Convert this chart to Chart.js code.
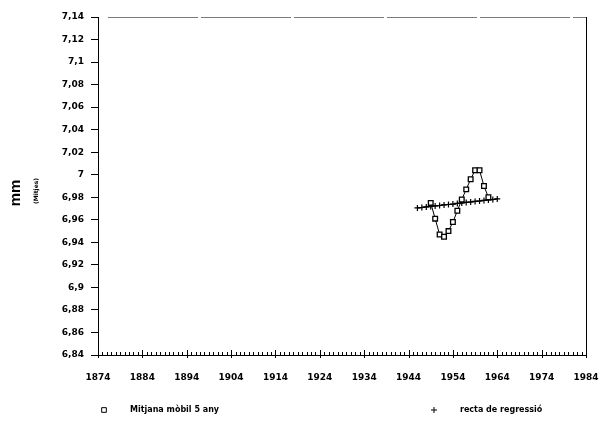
<!DOCTYPE html>
<html>
<head>
<meta charset="utf-8">
<script src="https://cdn.jsdelivr.net/npm/chart.js@4"></script>
<style>
  html, body { margin: 0; padding: 0; background: #fff; }
</style>
</head>
<body>
<canvas id="grafic" width="606" height="422"></canvas>
<script>
// dades llegides del grafic
const anysMitjana = [1949, 1950, 1951, 1952, 1953, 1954, 1955, 1956, 1957, 1958, 1959, 1960, 1961, 1962];
const mitjanaMobil = [6.975, 6.961, 6.947, 6.945, 6.950, 6.958, 6.968, 6.978, 6.987, 6.996, 7.004, 7.004, 6.990, 6.980];

const anysRecta = [1946, 1947, 1948, 1949, 1950, 1951, 1952, 1953, 1954, 1955, 1956, 1957, 1958, 1959, 1960, 1961, 1962, 1963, 1964];
const rectaRegressio = [6.9705, 6.9709, 6.9714, 6.9718, 6.9723, 6.9727, 6.9732, 6.9736, 6.9740, 6.9745, 6.9749, 6.9754, 6.9758, 6.9763, 6.9767, 6.9772, 6.9776, 6.9780, 6.9785];

const etiquetes = ['Mitjana mòbil 5 any', 'recta de regressió'];

// eixos
const xMin = 1874, xMax = 1984, xPas = 10;
const yMin = 6.84, yMax = 7.14, yPas = 0.02;

const lletra = '"DejaVu Sans", sans-serif';

const punts = (xs, ys) => xs.map((a, i) => ({ x: a, y: ys[i] }));

// vores, marques d'any, titol de l'eix i llegenda
const extres = {
  id: 'extres',
  afterDraw(chart) {
    const { ctx, chartArea: a, scales: { x } } = chart;
    ctx.save();
    ctx.lineWidth = 1;

    // vora de dalt (gris, discontinua)
    ctx.strokeStyle = '#7a7a7a';
    ctx.setLineDash([90, 3]);
    ctx.beginPath();
    ctx.moveTo(a.left + 10, a.top + 0.5);
    ctx.lineTo(a.right, a.top + 0.5);
    ctx.stroke();
    ctx.setLineDash([]);

    // vora dreta
    ctx.strokeStyle = '#000';
    ctx.beginPath();
    ctx.moveTo(Math.round(a.right) + 0.5, a.top);
    ctx.lineTo(Math.round(a.right) + 0.5, a.bottom);
    ctx.stroke();

    // marques de cada any
    ctx.beginPath();
    for (let any = xMin; any <= xMax; any++) {
      const px = Math.round(x.getPixelForValue(any)) + 0.5;
      const gran = (any - xMin) % xPas === 0;
      ctx.moveTo(px, a.bottom + (gran ? 3 : 0));
      ctx.lineTo(px, a.bottom - (gran ? 5 : 3));
    }
    ctx.stroke();

    // titol eix Y
    ctx.fillStyle = '#000';
    ctx.textAlign = 'center';
    ctx.textBaseline = 'middle';
    ctx.save();
    ctx.translate(16, 193);
    ctx.rotate(-Math.PI / 2);
    ctx.font = 'bold 15px "Liberation Sans", sans-serif';
    ctx.fillText('mm', 0, 0);
    ctx.restore();
    ctx.save();
    ctx.translate(36, 191);
    ctx.rotate(-Math.PI / 2);
    ctx.font = 'bold 6px ' + lletra;
    ctx.fillText('(Mitjes)', 0, 0);
    ctx.restore();

    // llegenda
    const simbolX = [104, 434];
    const textX = [130, 460];
    const yl = 410;
    ctx.font = 'bold 8px ' + lletra;
    ctx.textAlign = 'left';
    chart.data.datasets.forEach((ds, i) => {
      ctx.strokeStyle = '#000';
      ctx.fillStyle = '#fff';
      Chart.helpers.drawPoint(ctx, {
        pointStyle: ds.pointStyle,
        radius: ds.pointRadius,
        borderWidth: 1,
        rotation: 0
      }, simbolX[i], yl);
      ctx.fillStyle = '#000';
      ctx.fillText(ds.label, textX[i], yl);
    });
    ctx.restore();
  }
};

new Chart(document.getElementById('grafic'), {
  type: 'scatter',
  data: {
    datasets: [{
      label: etiquetes[0],
      data: punts(anysMitjana, mitjanaMobil),
      showLine: true,
      borderColor: '#000',
      borderWidth: 1,
      pointStyle: 'rect',
      pointRadius: 3.3,
      pointBackgroundColor: '#fff',
      pointBorderColor: '#000',
      pointBorderWidth: 1.3,
      order: 0
    }, {
      label: etiquetes[1],
      data: punts(anysRecta, rectaRegressio),
      showLine: true,
      borderColor: '#000',
      borderWidth: 1.3,
      pointStyle: 'cross',
      pointRadius: 3,
      pointBorderColor: '#000',
      pointBorderWidth: 1.2,
      order: 1
    }]
  },
  options: {
    responsive: false,
    animation: false,
    layout: { padding: { top: 17, right: 20, bottom: 0, left: 0 } },
    plugins: {
      legend: { display: false },
      tooltip: { enabled: false }
    },
    scales: {
      x: {
        type: 'linear',
        min: xMin,
        max: xMax,
        afterFit: (s) => { s.height = 67; },
        border: { display: true, color: '#000', width: 1 },
        grid: { display: false, drawTicks: true, tickLength: 14 },
        ticks: {
          stepSize: xPas,
          autoSkip: false,
          maxRotation: 0,
          maxTicksLimit: 20,
          padding: 3,
          color: '#000',
          font: { family: lletra, size: 9, weight: 'bold' },
          callback: (v) => String(v)
        }
      },
      y: {
        min: yMin,
        max: yMax,
        afterFit: (s) => { s.width = 98; },
        border: { display: true, color: '#000', width: 1 },
        grid: {
          drawOnChartArea: false,
          drawTicks: true,
          tickLength: 7,
          color: '#000',
          lineWidth: 1
        },
        ticks: {
          stepSize: yPas,
          autoSkip: false,
          maxTicksLimit: 20,
          padding: 7,
          color: '#000',
          font: { family: lletra, size: 9, weight: 'bold' },
          callback: (v) => String(parseFloat(v.toFixed(2))).replace('.', ',')
        }
      }
    }
  },
  plugins: [extres]
});
</script>
</body>
</html>
